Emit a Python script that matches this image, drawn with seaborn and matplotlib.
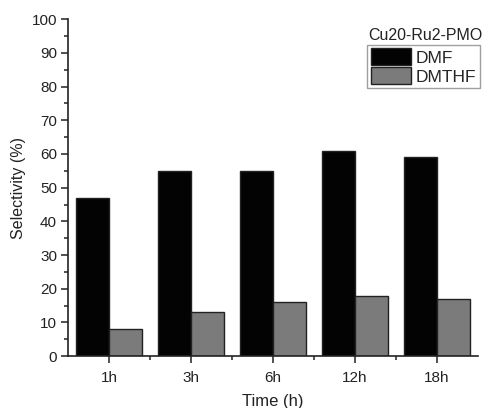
import matplotlib
matplotlib.use("Agg")
import matplotlib.pyplot as plt
import seaborn as sns
import pandas as pd
from matplotlib.ticker import MultipleLocator, FixedLocator

times = ["1h", "3h", "6h", "12h", "18h"]
dmf = [47, 55, 55, 61, 59]
dmthf = [8, 13, 16, 18, 17]
series = ["DMF", "DMTHF"]
legend_title = "Cu20-Ru2-PMO"

df = pd.DataFrame({
    "Time": times * 2,
    "Selectivity": dmf + dmthf,
    "Product": [series[0]] * len(times) + [series[1]] * len(times),
})

sns.set_theme(style="ticks")
plt.rcParams['font.family'] = ['Liberation Sans', 'DejaVu Sans']

fig = plt.figure(figsize=(4.87, 4.08), dpi=100)
ax = fig.add_axes([0.140, 0.127, 0.841, 0.826])

sns.barplot(data=df, x="Time", y="Selectivity", hue="Product",
            palette={"DMF": "#030303", "DMTHF": "#7b7b7b"},
            width=0.8, edgecolor="#222222", linewidth=1.0, ax=ax,
            saturation=1)

ax.set_xlim(-0.5, 4.5)
ax.set_ylim(0, 100)
ax.yaxis.set_major_locator(MultipleLocator(10))
ax.yaxis.set_minor_locator(MultipleLocator(5))
ax.xaxis.set_minor_locator(FixedLocator([0.5, 1.5, 2.5, 3.5]))
ax.tick_params(axis="both", which="major", direction="out", length=5, width=1.1,
               labelsize=11, colors="#222222", pad=3)
ax.tick_params(axis="both", which="minor", direction="out", length=3, width=1.1,
               colors="#222222")
ax.tick_params(axis="x", which="major", pad=6)
for s in ["top", "right"]:
    ax.spines[s].set_visible(False)
for s in ["left", "bottom"]:
    ax.spines[s].set_linewidth(1.2)
    ax.spines[s].set_color("#222222")

ax.set_xlabel("Time (h)", fontsize=12, color="#222222", labelpad=6)
ax.set_ylabel("Selectivity (%)", fontsize=11.5, color="#222222", labelpad=4)

leg = ax.legend(loc="upper right", bbox_to_anchor=(480 / 487, 1 - 45 / 408),
                bbox_transform=fig.transFigure,
                fontsize=12.5, frameon=True, fancybox=False,
                handlelength=2.3, handleheight=1.1, handletextpad=0.3,
                borderpad=0.2, labelspacing=0.1, borderaxespad=0)
leg.get_frame().set_edgecolor("#888888")
leg.get_frame().set_linewidth(1.0)
fig.text(368 / 487, 1 - 43 / 408, legend_title, fontsize=11.5, color="#222222",
         ha="left", va="bottom")

fig.savefig("out.png", dpi=100, facecolor="white")
